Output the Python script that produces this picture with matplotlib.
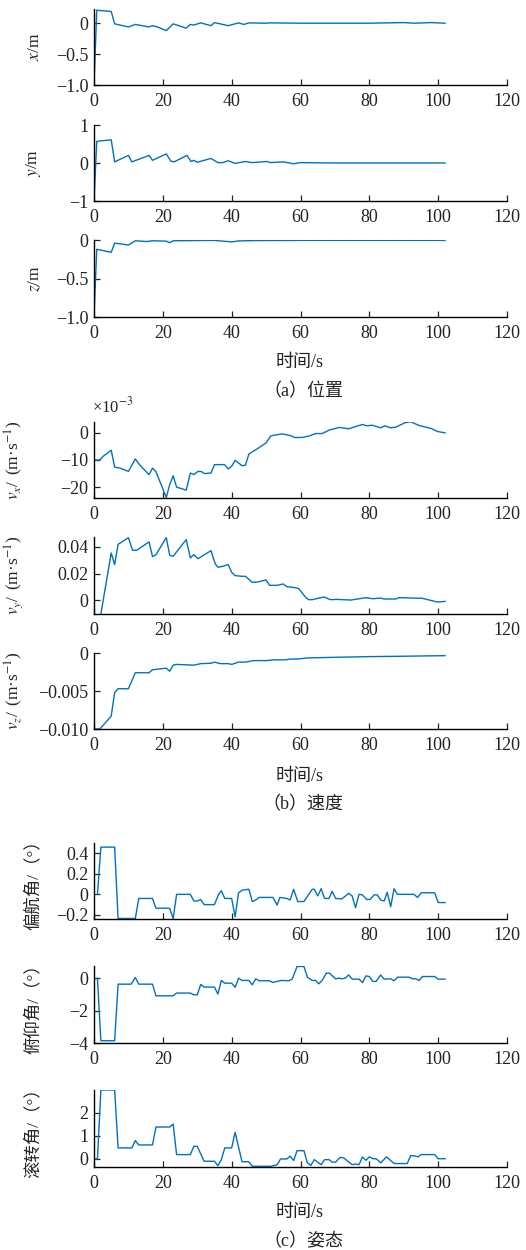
import matplotlib
matplotlib.use("Agg")
import matplotlib.pyplot as plt

plt.rcParams['font.family'] = ['Liberation Serif', 'Noto Sans CJK SC']
plt.rcParams['mathtext.fontset'] = 'stix'
plt.rcParams['axes.unicode_minus'] = True

# ---- data ----
t_x = [0, 0.8, 5, 6, 10, 12, 16, 17, 18.4, 21, 23, 26.8, 28, 29, 31, 34, 35, 39, 42, 43.5,
       45, 50, 51, 60, 70, 80, 90, 93, 98, 102]
pos_x = [-1.0, 0.21, 0.19, -0.01, -0.06, -0.02, -0.06, -0.04, -0.06, -0.12, -0.01, -0.08,
         -0.02, -0.03, 0.005, -0.04, 0.01, -0.04, 0.005, -0.02, 0.005, 0.0, 0.005, 0.0,
         0.0, 0.0, 0.01, 0.0, 0.01, 0.0]

t_y = [0, 0.8, 5, 6, 10, 11, 16, 17, 21, 22.3, 23.3, 27, 28.2, 29, 30, 34, 36, 37.5, 39, 41,
       44, 46, 50.3, 51.3, 55, 58, 60, 70, 80, 90, 102]
pos_y = [-1.0, 0.57, 0.61, 0.03, 0.2, 0.03, 0.2, 0.07, 0.24, 0.05, 0.03, 0.2, 0.04, 0.07,
         0.02, 0.12, 0.01, 0.01, 0.06, -0.01, 0.04, 0.01, 0.04, 0.01, 0.03, -0.02, 0.01,
         0.0, 0.0, 0.0, 0.0]

t_z = [0, 0.8, 5, 6, 10, 12, 15.3, 17, 21, 22, 23, 35, 40, 42, 46, 60, 80, 102]
pos_z = [-1.0, -0.12, -0.16, -0.04, -0.065, -0.01, -0.02, -0.01, -0.015, -0.035, -0.01,
         -0.005, -0.025, -0.012, -0.008, -0.005, -0.005, -0.005]

t_vx = [0, 1.7, 2.7, 5, 6, 7.6, 10, 12, 13.2, 16, 17, 18, 21, 22, 23, 24, 26.8, 28, 29,
        30.2, 31.3, 32, 34, 35, 37.9, 39, 40, 41, 43, 44, 45, 47.4, 50, 51.3, 52.2, 54.7,
        57, 58.3, 60.5, 62.4, 64.4, 66.3, 68.3, 71.2, 74, 78, 79.2, 80.9, 83.3, 84.5, 86.2,
        87.7, 90.3, 92, 94.5, 98, 99.8, 102]
vel_x_e3 = [-10, -10, -8.6, -6.4, -12.6, -13, -14.2, -9.6, -11.7, -15.4, -13, -14.3, -23.8,
            -19.1, -15.8, -20, -21.1, -14.8, -15.4, -14.2, -14.3, -15, -14.8, -11.7, -11.7,
            -13.3, -12.3, -10.1, -12.1, -11.9, -7.8, -5.9, -3.7, -1.2, -0.9, -0.4, -1, -1.7,
            -1.7, -1.2, -0.25, -0.25, 1.0, 2.0, 1.5, 3.1, 2.6, 2.8, 1.85, 2.6, 1.85, 2.1, 3.7,
            4.1, 2.7, 1.6, 0.5, 0.0]

t_vy = [2, 5, 6, 7, 10, 11.2, 12.4, 16, 17, 18, 21, 22, 23, 26.8, 28, 29, 30.2, 34, 35.2,
        36, 37.5, 39, 40, 41, 43, 44, 46, 47.5, 50, 51, 53.2, 55, 56, 58.5, 59.5, 61.5,
        62.4, 63.4, 66.8, 68.7, 70.6, 74.6, 79, 81, 83.3, 84.3, 87.7, 88.6, 95.4, 99.8, 102]
vel_y = [-0.0105, 0.0355, 0.0267, 0.042, 0.047, 0.0375, 0.0375, 0.0438, 0.0327, 0.0342,
         0.047, 0.0337, 0.033, 0.0455, 0.0317, 0.0342, 0.0312, 0.0372, 0.0274, 0.0247,
         0.0255, 0.0267, 0.0209, 0.0184, 0.0179, 0.0179, 0.0133, 0.0136, 0.0151, 0.0111,
         0.0111, 0.0121, 0.0101, 0.0093, 0.0086, 0.002, 0.0003, 0.0003, 0.0023, 0.0003,
         0.0005, 0.0, 0.0018, 0.001, 0.0015, 0.0008, 0.0008, 0.0018, 0.0013, -0.0015,
         -0.001]

t_vz = [0, 1.7, 5, 6, 7, 10, 12, 16, 17, 21, 22, 23, 24, 29, 31, 34, 35, 36.7, 39, 40, 42,
        44, 46.4, 50.3, 52.2, 55.6, 57, 59.5, 62, 69.7, 79.4, 89, 102]
vel_z = [-0.010, -0.010, -0.0083, -0.0052, -0.0047, -0.0047, -0.0026, -0.0026, -0.0022,
         -0.002, -0.0024, -0.0016, -0.0015, -0.0016, -0.0014, -0.00135, -0.0012, -0.0014,
         -0.0014, -0.0015, -0.0012, -0.0012, -0.001, -0.001, -0.0009, -0.0009, -0.0008,
         -0.00078, -0.00065, -0.00057, -0.00048, -0.00043, -0.00035]

t_yaw = [1, 2, 6, 7, 12, 13, 17, 18, 22, 23, 24, 28, 29, 30, 31, 32, 35, 36.2, 37, 38, 40,
         41, 42, 43, 45, 46, 47, 48, 52, 53.2, 54, 56, 57, 58, 59.2, 61, 62.4, 63.4, 64, 65,
         66, 67, 68.3, 69.2, 70.2, 72, 74, 75, 76, 77, 78, 79.2, 80.2, 81.4, 82.3, 83.3,
         84.3, 85.2, 86.2, 87.2, 88.2, 93, 94, 95.1, 99, 100, 102]
yaw = [0, 0.46, 0.46, -0.235, -0.235, -0.04, -0.04, -0.135, -0.135, -0.235, 0, 0, -0.065,
       -0.065, -0.05, -0.1, -0.1, 0, 0.035, -0.04, -0.04, -0.22, 0.015, 0.04, 0.05, -0.07,
       -0.055, -0.03, -0.03, -0.105, -0.03, -0.04, -0.055, 0.05, -0.07, -0.07, 0, 0.05,
       0.05, -0.015, 0.055, -0.04, -0.04, 0.03, -0.04, -0.045, 0.01, -0.015, -0.13, 0,
       -0.005, -0.05, -0.05, -0.005, -0.005, -0.055, -0.065, 0.02, -0.12, 0.055, 0, 0,
       -0.03, 0.015, 0.015, -0.08, -0.08]

t_pitch = [1, 2, 6, 7, 10.8, 12, 13, 17, 18, 23, 24, 28, 29, 30, 31, 32, 35, 36, 37, 38, 40,
           41, 42, 43, 45, 46, 47, 48, 51, 52, 53.2, 54.4, 56.6, 57.6, 59, 61, 62, 63.4,
           64.4, 65.3, 66.3, 67.5, 68.4, 70.2, 71.2, 72, 73, 74, 75, 77, 78, 79, 80, 81, 82,
           83.3, 84.3, 86.2, 87.2, 88.2, 91.5, 92.5, 93.5, 94.5, 95.4, 99, 100, 102]
pitch = [0, -3.86, -3.86, -0.37, -0.37, 0.04, -0.37, -0.37, -1.09, -1.09, -0.92, -0.92,
         -1.03, -1.03, -0.39, -0.55, -0.55, -0.98, -0.14, -0.31, -0.31, -0.57, 0, -0.14,
         -0.14, -0.41, -0.04, -0.16, -0.16, -0.27, -0.2, -0.14, -0.16, -0.06, 0.72, 0.72,
         0.06, -0.14, -0.14, -0.35, -0.14, 0.31, 0.31, -0.04, 0, -0.04, 0, 0.2, -0.06, -0.06,
         -0.27, 0.14, 0.1, -0.2, -0.2, 0.2, -0.06, -0.04, -0.16, 0.06, 0.06, -0.04, -0.04,
         -0.14, 0.1, 0.1, -0.06, -0.06]

t_roll = [0, 1, 2, 6, 7, 11, 12, 13, 17, 18, 22, 23, 24, 28, 29, 30, 32, 35, 36, 37, 38, 40,
          41, 43, 45, 46, 51.5, 53.2, 54.2, 56, 57, 58, 59, 61, 62, 63, 64, 66, 67, 68.3,
          69.2, 70.2, 71.5, 72.6, 75, 76, 77, 78, 79, 80, 81, 82, 83.3, 85, 87.2, 91, 92, 93,
          94.2, 95, 99, 100, 102]
roll = [0, 0, 3.0, 3.0, 0.48, 0.48, 0.8, 0.61, 0.61, 1.39, 1.39, 1.52, 0.19, 0.19, 0.55,
        0.55, -0.1, -0.1, -0.29, -0.03, 0.48, 0.48, 1.16, -0.12, -0.12, -0.32, -0.32, -0.25,
        0, 0, 0.12, -0.07, 0.36, 0.36, -0.17, -0.28, -0.03, -0.25, -0.03, -0.03, -0.14,
        -0.14, 0.07, 0.04, -0.25, -0.22, -0.25, 0.09, -0.06, 0.09, 0.01, 0.01, -0.17, 0.09,
        -0.2, -0.2, 0.14, 0.14, 0.09, 0.19, 0.19, 0.01, 0.01]

x_ticks = [0, 20, 40, 60, 80, 100, 120]
x_tick_labels = ['0', '20', '40', '60', '80', '100', '120']

panels = [
    # (t, values, ylim, yticks, ytick labels, ylabel, axes top px, axes bottom px, label x)
    (t_x, pos_x, (-1.0, 0.23), [-1.0, -0.5, 0], ['−1.0', '−0.5', '0'], '$x$/m', 9, 85, 43),
    (t_y, pos_y, (-1, 1), [-1, 0, 1], ['−1', '0', '1'], '$y$/m', 125, 201, 43),
    (t_z, pos_z, (-1.0, 0.0), [-1.0, -0.5, 0], ['−1.0', '−0.5', '0'], '$z$/m', 240, 317, 43),
    (t_vx, [v * 1e-3 for v in vel_x_e3], (-24e-3, 4e-3), [-20e-3, -10e-3, 0],
     ['−20', '−10', '0'], r'$v_x$/ $\,$(m·s$^{-1}$)', 422, 498, 25),
    (t_vy, vel_y, (-0.0105, 0.0475), [0, 0.02, 0.04], ['0', '0.02', '0.04'],
     r'$v_y$/ $\,$(m·s$^{-1}$)', 537, 614, 25),
    (t_vz, vel_z, (-0.010, 0.0), [-0.010, -0.005, 0], ['−0.010', '−0.005', '0'],
     r'$v_z$/ $\,$(m·s$^{-1}$)', 653, 729, 25),
    (t_yaw, yaw, (-0.24, 0.5), [-0.2, 0, 0.2, 0.4], ['−0.2', '0', '0.2', '0.4'],
     '偏航角/（°）', 843, 919, 42),
    (t_pitch, pitch, (-4, 0.75), [-4, -2, 0], ['−4', '−2', '0'], '俯仰角/（°）', 966, 1043, 42),
    (t_roll, roll, (-0.35, 3.0), [0, 1, 2], ['0', '1', '2'], '滚转角/（°）', 1090, 1167, 42),
]

W, H = 526, 1250
left_px, right_px = 94, 507
fig = plt.figure(figsize=(W / 100, H / 100), dpi=100)

for t, vals, ylim, yt, ytl, ylab, top, bot, lab_x in panels:
    ax = fig.add_axes([left_px / W, 1 - bot / H, (right_px - left_px) / W, (bot - top) / H])
    ax.plot(t, vals, color='#0072BD', linewidth=1.0)
    ax.set_xlim(0, 120)
    ax.set_ylim(*ylim)
    ax.set_xticks(x_ticks)
    ax.set_xticklabels(x_tick_labels)
    ax.set_yticks(yt)
    ax.set_yticklabels(ytl)
    for s in ['top', 'right']:
        ax.spines[s].set_visible(False)
    for s in ['left', 'bottom']:
        ax.spines[s].set_linewidth(1.0)
    ax.tick_params(direction='in', length=4, width=0.9, labelsize=13, colors='#222222')
    ax.tick_params(axis='x', pad=6)
    ax.tick_params(axis='y', pad=4)
    ax.set_ylabel(ylab, fontsize=12.5, color='#222222')
    ax.yaxis.set_label_coords((lab_x - left_px) / (right_px - left_px), 0.5)

fig.text(92 / W, 1 - 406 / H, '×10$^{-3}$', fontsize=12, ha='left', va='center', color='#222222')

for y_lab, y_cap, cap in [(363, 392, '（a）位置'), (777, 805, '（b）速度'), (1213, 1242, '（c）姿态')]:
    fig.text(300 / W, 1 - y_lab / H, '时间/s', fontsize=13, ha='center', va='center', color='#222222')
    fig.text(303 / W, 1 - y_cap / H, cap, fontsize=13, ha='center', va='center', color='#222222')

fig.savefig('out.png', dpi=100)
